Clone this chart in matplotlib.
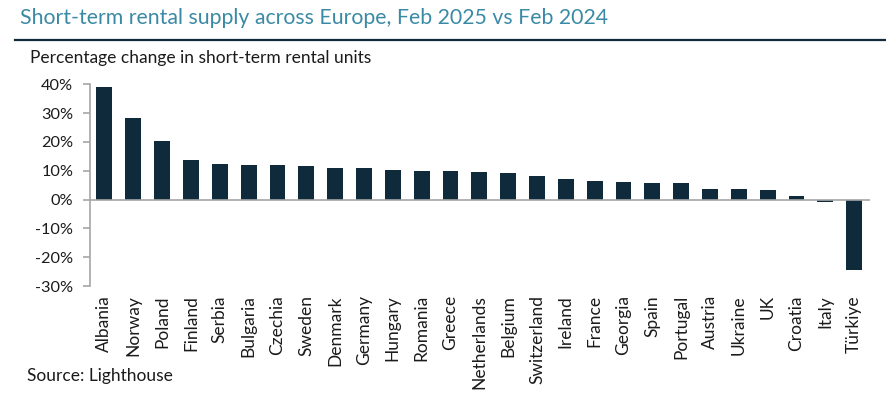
import matplotlib
matplotlib.use("Agg")
import matplotlib.pyplot as plt
from matplotlib.lines import Line2D
from matplotlib.ticker import FuncFormatter

countries = ["Albania", "Norway", "Poland", "Finland", "Serbia", "Bulgaria", "Czechia",
             "Sweden", "Denmark", "Germany", "Hungary", "Romania", "Greece", "Netherlands",
             "Belgium", "Switzerland", "Ireland", "France", "Georgia", "Spain", "Portugal",
             "Austria", "Ukraine", "UK", "Croatia", "Italy", "Türkiye"]
change_pct = [39.1, 28.4, 20.3, 13.9, 12.4, 11.9, 11.9, 11.5, 11.0, 11.0, 10.2, 10.0, 9.8,
              9.6, 9.1, 8.3, 7.3, 6.6, 6.0, 5.7, 5.6, 3.6, 3.6, 3.2, 1.3, -0.8, -24.3]
y_ticks = [-30, -20, -10, 0, 10, 20, 30, 40]

title = "Short-term rental supply across Europe, Feb 2025 vs Feb 2024"
subtitle = "Percentage change in short-term rental units"
source = "Source: Lighthouse"

plt.rcParams['font.family'] = ['Lato', 'DejaVu Sans']

W, H = 886, 398
fig = plt.figure(figsize=(W / 100, H / 100), dpi=100)
bar_color = "#0e2a3b"
axis_gray = "#a6a6a6"
text_color = "#1b1b1b"

ax = fig.add_axes([90 / W, 1 - 286 / H, (870 - 90) / W, (286 - 84.3) / H])
x = list(range(len(countries)))
ax.bar(x, change_pct, width=0.55, color=bar_color, zorder=2)
ax.set_xlim(-0.5, len(countries) - 0.45)
ax.set_ylim(-30, 40)
ax.set_yticks(y_ticks)
ax.yaxis.set_major_formatter(FuncFormatter(lambda v, p: f"{v:.0f}%"))
ax.set_xticks(x)
ax.set_xticklabels(countries, rotation=90, fontsize=12.5, color=text_color)
ax.tick_params(axis='x', length=0, pad=6.5)
ax.tick_params(axis='y', length=5, width=1.2, color=axis_gray, pad=7,
               labelsize=11.7, labelcolor=text_color)
for s in ["top", "right", "bottom"]:
    ax.spines[s].set_visible(False)
ax.spines["left"].set_color(axis_gray)
ax.spines["left"].set_linewidth(1.2)
ax.axhline(0, color=axis_gray, linewidth=1.2, zorder=3)

fig.text(20 / W, 1 - 24 / H, title, fontsize=15.3, color="#3b8aa5", va="baseline", ha="left")
fig.add_artist(Line2D([15 / W, 1], [1 - 40 / H, 1 - 40 / H], color=bar_color, linewidth=1.6))
fig.text(30 / W, 1 - 63 / H, subtitle, fontsize=12.5, color=text_color, va="baseline", ha="left")
fig.text(27 / W, 1 - 381.5 / H, source, fontsize=12.5, color=text_color, va="baseline", ha="left")

fig.savefig("out.png", dpi=100)
